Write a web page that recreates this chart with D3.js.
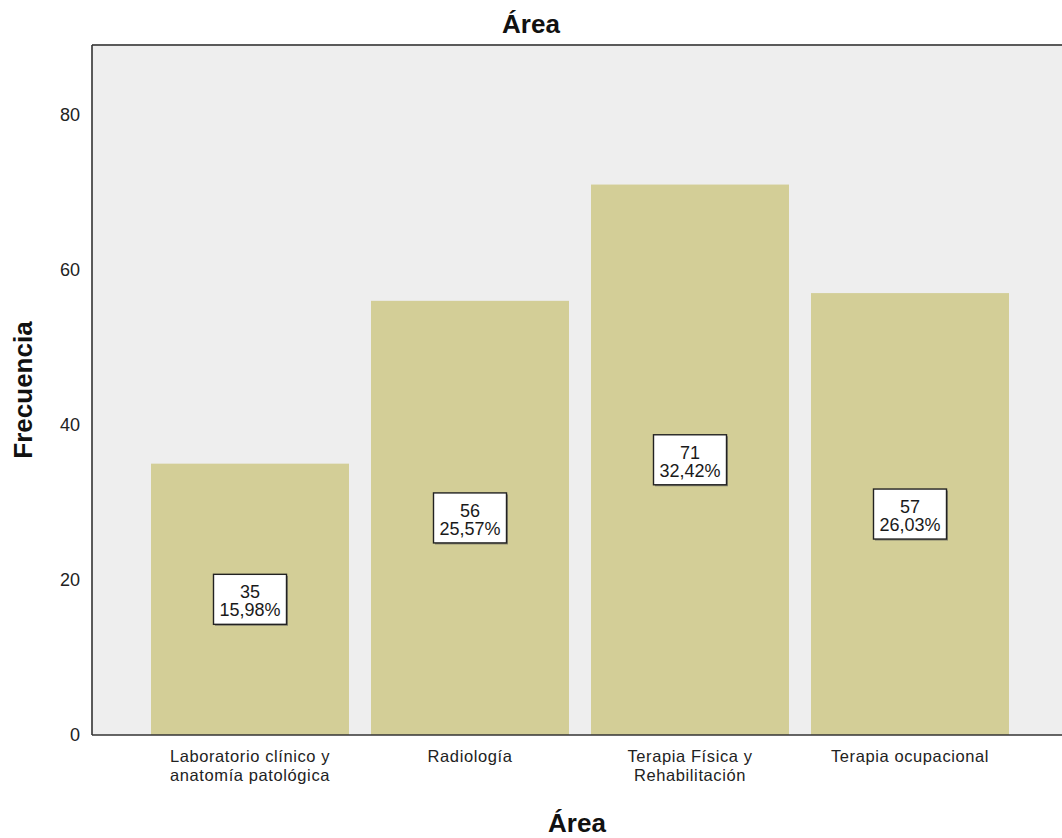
<!DOCTYPE html>
<html>
<head>
<meta charset="utf-8">
<script src="https://cdn.jsdelivr.net/npm/d3@7"></script>
<style>
  html, body { margin: 0; padding: 0; background: #ffffff; }
  svg { display: block; font-family: "Liberation Sans", Arial, sans-serif; }
</style>
</head>
<body>
<svg id="chart" width="1062" height="838"></svg>
<script>
// Frequency of respondents by work area
const categories = [
  ["Laboratorio clínico y", "anatomía patológica"],
  ["Radiología"],
  ["Terapia Física y", "Rehabilitación"],
  ["Terapia ocupacional"]
];
const counts = [35, 56, 71, 57];
const percentLabels = ["15,98%", "25,57%", "32,42%", "26,03%"];
const yTicks = [0, 20, 40, 60, 80];

const W = 1062, H = 838;
const plot = { left: 92, right: 1062, top: 45, bottom: 735 };

const svg = d3.select("#chart");
const keys = categories.map(c => c.join(" "));

const x = d3.scaleBand()
  .domain(keys)
  .range([129, 1031])
  .paddingInner(0.1)
  .paddingOuter(0.1);

const y = d3.scaleLinear()
  .domain([0, 89])
  .range([plot.bottom, plot.top]);

// plot background
svg.append("rect")
  .attr("x", plot.left).attr("y", plot.top)
  .attr("width", plot.right - plot.left)
  .attr("height", plot.bottom - plot.top)
  .attr("fill", "#eeeeee");

// bars
svg.selectAll("rect.bar")
  .data(counts)
  .join("rect")
  .attr("class", "bar")
  .attr("x", (d, i) => x(keys[i]))
  .attr("y", d => y(d))
  .attr("width", x.bandwidth())
  .attr("height", d => y(0) - y(d))
  .attr("fill", "#d3ce97");

// top frame line
svg.append("line")
  .attr("x1", plot.left).attr("x2", plot.right)
  .attr("y1", plot.top).attr("y2", plot.top)
  .attr("stroke", "#5a5a5a").attr("stroke-width", 2);

// y axis
const yAxis = svg.append("g")
  .attr("transform", `translate(${plot.left},0)`)
  .call(d3.axisLeft(y).tickValues(yTicks).tickSize(0).tickPadding(12));
yAxis.select(".domain")
  .attr("d", `M0,${plot.top}V${plot.bottom}`)
  .attr("stroke", "#333333").attr("stroke-width", 1.6);
yAxis.selectAll("text")
  .attr("font-size", 18).attr("fill", "#222222")
  .attr("font-family", "Liberation Sans, Arial, sans-serif");

// x axis
const xAxis = svg.append("g")
  .attr("transform", `translate(0,${plot.bottom})`)
  .call(d3.axisBottom(x).tickSize(0).tickFormat(""));
xAxis.select(".domain")
  .attr("d", `M${plot.left},0H${plot.right}`)
  .attr("stroke", "#333333").attr("stroke-width", 1.6);

xAxis.selectAll(".tick").each(function(d, i) {
  const t = d3.select(this).append("text")
    .attr("text-anchor", "middle")
    .attr("font-size", 16.5)
    .attr("letter-spacing", "0.6px")
    .attr("fill", "#222222")
    .attr("font-family", "Liberation Sans, Arial, sans-serif");
  categories[i].forEach((line, j) => {
    t.append("tspan").attr("x", 0).attr("y", 27 + j * 18.5).text(line);
  });
});

// value label boxes
const labels = svg.selectAll("g.vlabel")
  .data(counts)
  .join("g")
  .attr("class", "vlabel")
  .attr("transform", (d, i) => `translate(${x(keys[i]) + x.bandwidth() / 2},${(y(d) + y(0)) / 2})`);

labels.each(function(d, i) {
  const g = d3.select(this);
  const boxW = 73, boxH = 50;
  g.append("rect")
    .attr("x", -boxW / 2 + 1.5).attr("y", -boxH / 2 + 1.5)
    .attr("width", boxW).attr("height", boxH)
    .attr("fill", "#555555").attr("opacity", 0.6);
  g.append("rect")
    .attr("x", -boxW / 2).attr("y", -boxH / 2)
    .attr("width", boxW).attr("height", boxH)
    .attr("fill", "#ffffff").attr("stroke", "#222222").attr("stroke-width", 1.4);
  const t = g.append("text")
    .attr("text-anchor", "middle")
    .attr("font-size", 18)
    .attr("fill", "#1a1a1a")
    .attr("font-family", "Liberation Sans, Arial, sans-serif");
  t.append("tspan").attr("x", 0).attr("y", -1).text(d);
  t.append("tspan").attr("x", 0).attr("y", 17).text(percentLabels[i]);
});

// titles
svg.append("text")
  .attr("x", W / 2).attr("y", 33)
  .attr("text-anchor", "middle")
  .attr("font-size", 26).attr("font-weight", "bold").attr("fill", "#111111")
  .text("Área");

svg.append("text")
  .attr("x", (plot.left + plot.right) / 2).attr("y", 832)
  .attr("text-anchor", "middle")
  .attr("font-size", 26).attr("font-weight", "bold").attr("fill", "#111111")
  .text("Área");

svg.append("text")
  .attr("transform", `translate(32,${(plot.top + plot.bottom) / 2}) rotate(-90)`)
  .attr("text-anchor", "middle")
  .attr("font-size", 26).attr("font-weight", "bold").attr("fill", "#111111")
  .text("Frecuencia");
</script>
</body>
</html>
